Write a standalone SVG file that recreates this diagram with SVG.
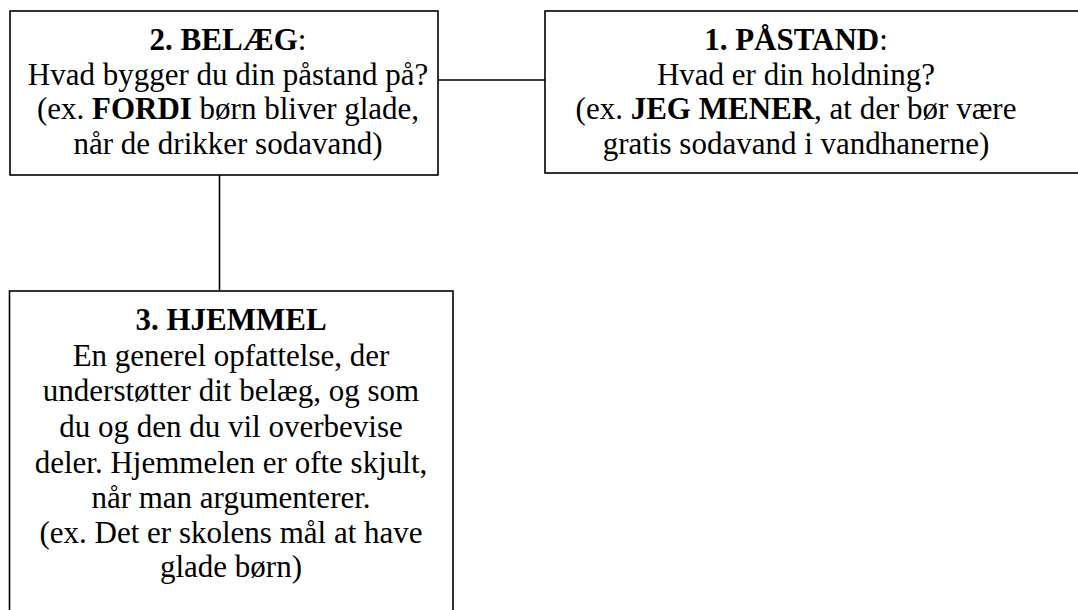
<svg xmlns="http://www.w3.org/2000/svg" width="1078" height="610" viewBox="0 0 1078 610">
<style>
.box{fill:#fff;stroke:#000;stroke-width:1.6}
.conn{stroke:#000;stroke-width:1.6;fill:none}
text{font-family:'Liberation Serif','Times New Roman','DejaVu Serif',serif;font-size:31px;fill:#000;text-anchor:middle}
.b{font-weight:bold}
</style>
<rect width="1078" height="610" fill="#fff"/>
<g id="connectors">
<line class="conn" x1="438" y1="80" x2="545" y2="80"/>
<line class="conn" x1="219.5" y1="175" x2="219.5" y2="291"/>
</g>
<g id="node-belaeg">
<rect class="box" x="10" y="11" width="428" height="164"/>
<text x="228" y="50"><tspan class="b">2. BELÆG</tspan>:</text>
<text x="228" y="84.5">Hvad bygger du din påstand på?</text>
<text x="228" y="119">(ex. <tspan class="b">FORDI</tspan> børn bliver glade,</text>
<text x="228" y="153.5">når de drikker sodavand)</text>
</g>
<g id="node-paastand">
<rect class="box" x="545" y="11" width="545" height="162"/>
<text x="796" y="50"><tspan class="b">1. PÅSTAND</tspan>:</text>
<text x="796" y="84.5">Hvad er din holdning?</text>
<text x="796" y="119">(ex. <tspan class="b">JEG MENER</tspan>, at der bør være</text>
<text x="796" y="153.5">gratis sodavand i vandhanerne)</text>
</g>
<g id="node-hjemmel">
<rect class="box" x="9.5" y="291" width="443.5" height="330"/>
<text x="231" y="330" class="b">3. HJEMMEL</text>
<text x="231" y="366">En generel opfattelse, der</text>
<text x="231" y="401">understøtter dit belæg, og som</text>
<text x="231" y="437">du og den du vil overbevise</text>
<text x="231" y="473">deler. Hjemmelen er ofte skjult,</text>
<text x="231" y="508">når man argumenterer.</text>
<text x="231" y="543">(ex. Det er skolens mål at have</text>
<text x="231" y="577">glade børn)</text>
</g>
</svg>
